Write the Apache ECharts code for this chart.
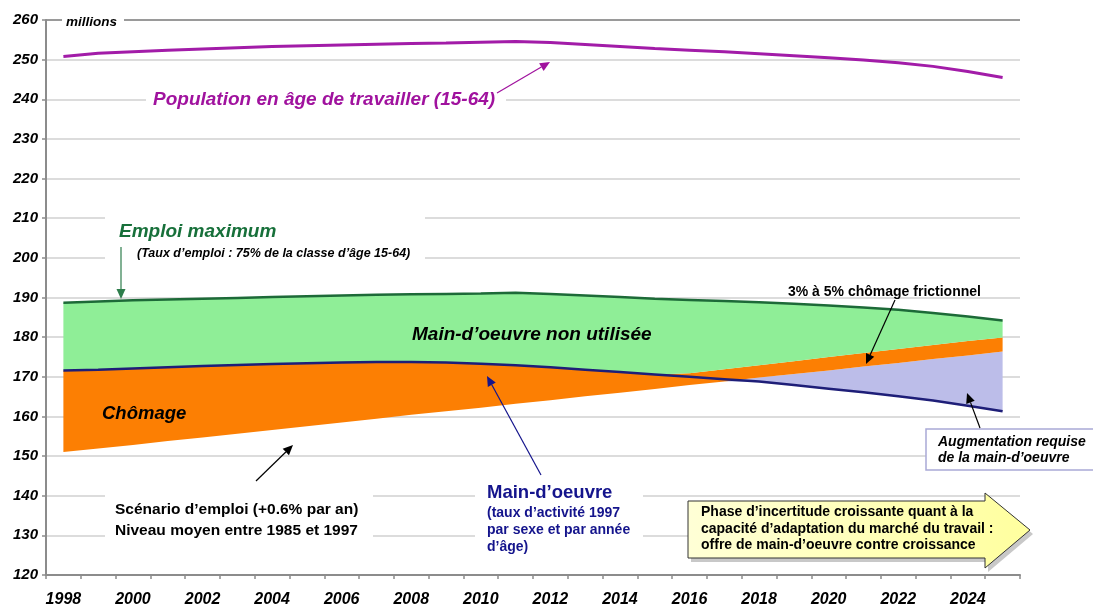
<!DOCTYPE html>
<html>
<head>
<meta charset="utf-8">
<script src="https://cdn.jsdelivr.net/npm/echarts@6/dist/echarts.min.js"></script>
<style>
  html, body { margin: 0; padding: 0; background: #fff; }
  #chart { width: 1093px; height: 608px; }
</style>
</head>
<body>
<div id="chart"></div>
<script>
// years on the x axis
const years = ['1998','1999','2000','2001','2002','2003','2004','2005','2006','2007',
  '2008','2009','2010','2011','2012','2013','2014','2015','2016','2017',
  '2018','2019','2020','2021','2022','2023','2024','2025'];

// population en age de travailler (15-64), millions
const population = [250.8, 251.6, 252.0, 252.4, 252.7, 253.0, 253.3, 253.5, 253.7, 253.9,
  254.1, 254.2, 254.4, 254.6, 254.3, 253.8, 253.3, 252.8, 252.4, 252.0,
  251.5, 251.0, 250.5, 249.9, 249.2, 248.3, 247.0, 245.5];

// emploi maximum (75% of 15-64)
const emploiMax = [188.7, 189.0, 189.3, 189.5, 189.7, 189.9, 190.1, 190.3, 190.5, 190.7,
  190.8, 190.9, 191.0, 191.2, 190.9, 190.5, 190.1, 189.7, 189.4, 189.1,
  188.8, 188.4, 188.0, 187.5, 186.9, 186.1, 185.2, 184.2];

// main-d'oeuvre (labour force)
const mainOeuvre = [171.6, 171.8, 172.1, 172.4, 172.7, 173.0, 173.2, 173.4, 173.6, 173.7,
  173.7, 173.6, 173.3, 172.9, 172.4, 171.8, 171.2, 170.6, 170.0, 169.4,
  168.8, 167.9, 167.0, 166.1, 165.1, 164.0, 162.7, 161.3];

// scenario d'emploi (+0.6% par an)
const emploi = [151.0, 151.9, 152.8, 153.8, 154.7, 155.6, 156.6, 157.5, 158.5, 159.4,
  160.4, 161.3, 162.2, 163.2, 164.1, 165.1, 166.0, 166.9, 167.9, 168.8,
  169.8, 170.7, 171.6, 172.6, 173.5, 174.5, 175.4, 176.4];

// top of the frictional unemployment band
const frictionnel = [null, null, null, null, null, null, null, null, null, null,
  null, null, null, null, null, null, null, 169.9, 170.9, 171.9,
  172.9, 173.9, 175.0, 176.0, 177.0, 178.0, 179.0, 179.9];

const yTicks = [120, 130, 140, 150, 160, 170, 180, 190, 200, 210, 220, 230, 240, 250, 260];

// stacked bands built from the lines above
const orangeTop = mainOeuvre.map((v, i) => frictionnel[i] == null ? v : Math.max(v, frictionnel[i]));
const base = emploi.map((v, i) => Math.min(v, mainOeuvre[i]));
const lavande = emploi.map((v, i) => Math.max(0, v - mainOeuvre[i]));
const orange = orangeTop.map((v, i) => v - emploi[i]);
const vert = emploiMax.map((v, i) => v - orangeTop[i]);

const FONT = '"Liberation Sans", Arial, sans-serif';

function txt(x, y, text, size, color, opts) {
  opts = opts || {};
  return {
    type: 'text', x: x, y: y, z: 110,
    style: {
      text: text,
      fill: color,
      font: (opts.italic === false ? '' : 'italic ') + 'bold ' + size + 'px ' + FONT,
      textVerticalAlign: 'middle',
      textAlign: opts.align || 'left'
    }
  };
}

function box(x, y, w, h, stroke) {
  return {
    type: 'rect', z: 105,
    shape: { x: x, y: y, width: w, height: h },
    style: { fill: '#fff', stroke: stroke || null, lineWidth: stroke ? 1.5 : 0 }
  };
}

function arrow(x1, y1, x2, y2, color) {
  const a = Math.atan2(y2 - y1, x2 - x1);
  const L = 10, W = 4.5;
  const bx = x2 - L * Math.cos(a), by = y2 - L * Math.sin(a);
  return [
    { type: 'line', z: 110, shape: { x1: x1, y1: y1, x2: bx, y2: by },
      style: { stroke: color, lineWidth: 1.2 } },
    { type: 'polygon', z: 110,
      shape: { points: [[x2, y2], [bx + W * Math.sin(a), by - W * Math.cos(a)], [bx - W * Math.sin(a), by + W * Math.cos(a)]] },
      style: { fill: color } }
  ];
}

const chart = echarts.init(document.getElementById('chart'), null, { renderer: 'canvas' });

const gridColors = yTicks.map((t, i) => i === yTicks.length - 1 ? '#9a9a9a' : '#dcdcdc');

const option = {
  animation: false,
  backgroundColor: '#fff',
  textStyle: { fontFamily: FONT },
  grid: { left: 46, right: 73, top: 20, bottom: 32, containLabel: false },
  xAxis: {
    type: 'category',
    data: years,
    boundaryGap: true,
    axisLine: { lineStyle: { color: '#8c8c8c', width: 2 } },
    axisTick: { show: true, interval: 0, length: 4, lineStyle: { color: '#8c8c8c', width: 1.5 } },
    axisLabel: { interval: 1, margin: 17, color: '#000', fontSize: 16, fontWeight: 'bold', fontStyle: 'italic', fontFamily: FONT },
    splitLine: { show: false }
  },
  yAxis: {
    type: 'value',
    min: 120, max: 260, interval: 10,
    axisLine: { show: true, lineStyle: { color: '#8c8c8c', width: 2 } },
    axisTick: { show: true, length: 4, lineStyle: { color: '#8c8c8c', width: 1.5 } },
    axisLabel: { margin: 8, color: '#000', fontSize: 15, fontWeight: 'bold', fontStyle: 'italic', fontFamily: FONT },
    splitLine: { show: true, lineStyle: { color: gridColors, width: 2 } }
  },
  series: [
    { name: 'base', type: 'line', stack: 'lab', data: base, symbol: 'none', silent: true,
      lineStyle: { width: 0 } },
    { name: 'Augmentation requise', type: 'line', stack: 'lab', data: lavande, symbol: 'none',
      lineStyle: { width: 0 }, areaStyle: { color: '#bcbde9', opacity: 1 } },
    { name: 'Chômage', type: 'line', stack: 'lab', data: orange, symbol: 'none',
      lineStyle: { width: 0 }, areaStyle: { color: '#fc7f03', opacity: 1 } },
    { name: 'Main-d\u2019oeuvre non utilisée', type: 'line', stack: 'lab', data: vert, symbol: 'none',
      lineStyle: { width: 0 }, areaStyle: { color: '#8fee97', opacity: 1 } },
    { name: 'Main-d\u2019oeuvre', type: 'line', data: mainOeuvre, symbol: 'none',
      lineStyle: { color: '#1e1e78', width: 2.5 }, z: 5 },
    { name: 'Emploi maximum', type: 'line', data: emploiMax, symbol: 'none',
      lineStyle: { color: '#1d6a38', width: 2.5 }, z: 5 },
    { name: 'Population', type: 'line', data: population, symbol: 'none',
      lineStyle: { color: '#a21ca8', width: 3 }, z: 5 }
  ],
  graphic: [
    box(62, 12, 62, 18),
    txt(66, 22, 'millions', 13.5, '#000'),

    box(146, 86, 360, 28),
    txt(153, 100, 'Population en âge de travailler (15-64)', 19, '#a0129e'),
    ...arrow(497, 93, 550, 62, '#a0129e'),

    box(105, 215, 320, 48),
    txt(119, 232, 'Emploi maximum', 19, '#17703a'),
    txt(137, 254, '(Taux d\u2019emploi : 75% de la classe d\u2019âge 15-64)', 12.5, '#000'),
    ...arrow(121, 247, 121, 299, '#2e7d4c'),

    txt(412, 335, 'Main-d\u2019oeuvre non utilisée', 19, '#000'),
    txt(102, 414, 'Chômage', 18.5, '#000'),

    box(105, 493, 268, 48),
    txt(115, 510, 'Scénario d\u2019emploi (+0.6% par an)', 15.5, '#000', { italic: false }),
    txt(115, 531, 'Niveau moyen entre 1985 et 1997', 15.5, '#000', { italic: false }),
    ...arrow(256, 481, 293, 445, '#000'),

    box(475, 478, 168, 82),
    txt(487, 493, 'Main-d\u2019oeuvre', 18.5, '#14148c', { italic: false }),
    txt(487, 513, '(taux d\u2019activité 1997', 14, '#14148c', { italic: false }),
    txt(487, 530, 'par sexe et par année', 14, '#14148c', { italic: false }),
    txt(487, 547, 'd\u2019âge)', 14, '#14148c', { italic: false }),
    ...arrow(541, 475, 487, 376, '#14148c'),

    txt(788, 292, '3% à 5% chômage frictionnel', 14, '#000', { italic: false }),
    ...arrow(895, 300, 866, 364, '#000'),

    box(926, 429, 175, 41, '#a9a9d6'),
    txt(938, 442, 'Augmentation requise', 14, '#000'),
    txt(938, 458, 'de la main-d\u2019oeuvre', 14, '#000'),
    ...arrow(980, 428, 967, 393, '#000'),

    {
      type: 'polygon', z: 104,
      shape: { points: [[691, 505], [988, 505], [988, 497], [1033, 534], [988, 572], [988, 562], [691, 562]] },
      style: { fill: '#c8c8c8' }
    },
    {
      type: 'polygon', z: 105,
      shape: { points: [[688, 501], [985, 501], [985, 493], [1030, 530], [985, 568], [985, 558], [688, 558]] },
      style: {
        fill: new echarts.graphic.LinearGradient(0, 0, 1, 0, [
          { offset: 0, color: '#ffffd6' }, { offset: 1, color: '#ffff9e' }
        ]),
        stroke: '#333', lineWidth: 1
      }
    },
    txt(701, 512, 'Phase d\u2019incertitude croissante quant à la', 14, '#000', { italic: false }),
    txt(701, 529, 'capacité d\u2019adaptation du marché du travail :', 14, '#000', { italic: false }),
    txt(701, 545, 'offre de main-d\u2019oeuvre contre croissance', 14, '#000', { italic: false })
  ]
};

chart.setOption(option);
</script>
</body>
</html>
